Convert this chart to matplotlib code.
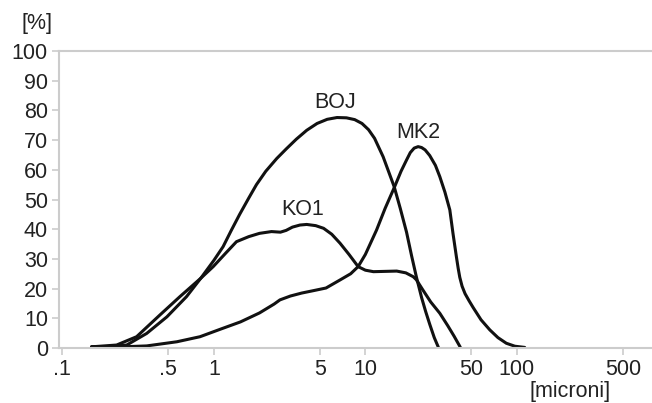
import matplotlib
matplotlib.use("Agg")
import matplotlib.pyplot as plt

# valori (asse x in micron, asse y in %)
boj_x = [0.156, 0.2, 0.266, 0.36, 0.49, 0.66, 0.82, 1.0, 1.15, 1.3, 1.48, 1.7,
         1.91, 2.2, 2.6, 3.0, 3.5, 4.1, 4.8, 5.6, 6.5, 7.5, 8.5, 9.5, 10.5, 11.5,
         13.1, 15.5, 17.0, 18.7, 20.2, 21.7, 23.5, 25.0, 26.6, 28.5, 30.3]
boj_y = [0.4, 0.5, 1.0, 4.9, 10.5, 17.3, 23.5, 29.5, 34.1, 39.5, 45.0, 50.5,
         55.0, 59.5, 63.8, 67.0, 70.3, 73.3, 75.6, 77.0, 77.6, 77.5, 76.9, 75.6, 73.5, 70.6,
         64.4, 54.3, 47.0, 39.0, 31.0, 24.0, 17.0, 12.3, 8.0, 3.5, 0.3]

ko1_x = [0.156, 0.228, 0.309, 0.44, 0.597, 0.82, 0.99, 1.2, 1.41, 1.7, 2.0, 2.4,
         2.75, 3.0, 3.3, 3.7, 4.1, 4.7, 5.3, 6.0, 6.8, 7.8, 8.96, 10.0, 11.3, 13.5,
         16.1, 18.5, 20.7, 21.7, 24.0, 27.0, 31.0, 35.0, 38.5, 42.3]
ko1_y = [0.4, 1.0, 3.8, 11.1, 17.3, 23.5, 27.4, 32.0, 35.8, 37.5, 38.6, 39.2,
         39.0, 39.6, 40.7, 41.4, 41.6, 41.2, 40.3, 38.3, 35.3, 31.5, 27.4, 26.2, 25.7, 25.8,
         25.9, 25.3, 24.0, 23.0, 19.5, 15.5, 11.7, 7.5, 4.0, 0.3]

mk2_x = [0.156, 0.25, 0.36, 0.57, 0.81, 1.1, 1.5, 2.0, 2.5, 2.73, 3.2, 3.8, 4.53,
         5.5, 6.8, 8.0, 8.96, 10.0, 11.85, 13.5, 15.6, 17.2, 18.7, 19.8, 21.0, 22.3,
         23.5, 24.8, 26.6, 29.0, 31.0, 33.5, 36.1, 37.9, 39.9, 41.0, 42.0, 43.5, 45.5,
         48.5, 51.5, 58.0, 66.3, 75.0, 85.2, 97.0, 112.7]
mk2_y = [0.4, 0.4, 0.7, 2.1, 3.8, 6.3, 8.8, 11.8, 14.8, 16.2, 17.5, 18.5, 19.3,
         20.2, 22.9, 25.0, 27.4, 31.5, 39.7, 47.0, 54.3, 59.5, 63.3, 65.8, 67.3, 67.8,
         67.5, 66.7, 64.8, 61.5, 57.7, 52.5, 46.5, 38.5, 30.7, 26.8, 23.8, 20.8, 18.3,
         15.8, 13.6, 9.5, 6.1, 3.5, 1.6, 0.6, 0.2]

x_ticks = [0.1, 0.5, 1, 5, 10, 50, 100, 500]
x_labels = [".1", ".5", "1", "5", "10", "50", "100", "500"]
y_ticks = list(range(0, 101, 10))

plt.rcParams["font.family"] = ["Liberation Sans", "DejaVu Sans"]

fig = plt.figure(figsize=(6.52, 4.03), dpi=100)
ax = fig.add_axes([59 / 652, 1 - 348 / 403, 593 / 652, 297 / 403])

line_color = "#111111"
for xs, ys in [(boj_x, boj_y), (ko1_x, ko1_y), (mk2_x, mk2_y)]:
    ax.plot(xs, ys, color=line_color, linewidth=2.2, solid_capstyle="round",
            solid_joinstyle="round", clip_on=False)

ax.set_xscale("log")
ax.set_xlim(0.095, 780)
ax.set_ylim(0, 100)

ax.set_xticks(x_ticks)
ax.set_xticklabels(x_labels)
ax.minorticks_off()
ax.set_yticks(y_ticks)

grey = "#cccccc"
txt = "#222222"
fs = 15.5
for side in ["left", "bottom", "top"]:
    ax.spines[side].set_color(grey)
    ax.spines[side].set_linewidth(1.5)
ax.spines["right"].set_visible(False)
ax.tick_params(axis="both", colors=grey, labelcolor=txt, labelsize=fs,
               length=5, width=1.2)
ax.tick_params(axis="y", pad=3)
ax.tick_params(axis="x", pad=3)

# etichette delle curve
ax.text(6.28, 82.5, "BOJ", ha="center", va="center", fontsize=fs, color=txt)
ax.text(22.2, 72.7, "MK2", ha="center", va="center", fontsize=fs, color=txt)
ax.text(3.86, 46.5, "KO1", ha="center", va="center", fontsize=fs, color=txt)

fig.text(37 / 652, 1 - 23 / 403, "[%]", ha="center", va="center",
         fontsize=fs, color=txt)
fig.text(570 / 652, 1 - 392 / 403, "[microni]", ha="center", va="center",
         fontsize=fs, color=txt)

fig.savefig("out.png", dpi=100)
